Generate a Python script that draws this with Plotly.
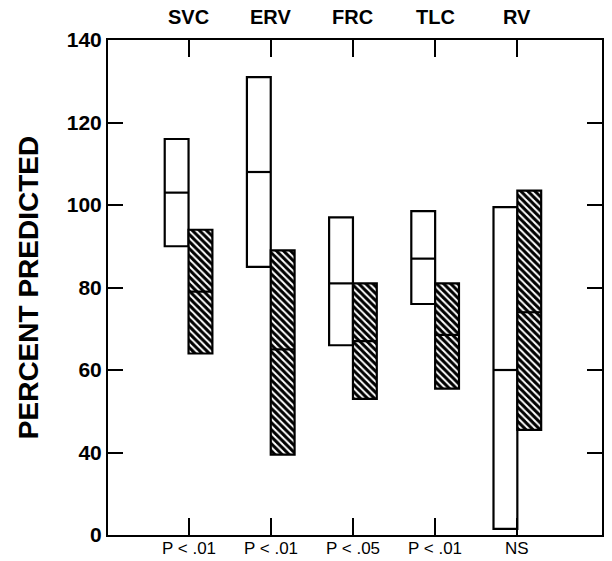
import plotly.graph_objects as go

categories = ["SVC", "ERV", "FRC", "TLC", "RV"]
pvals = ["P < .01", "P < .01", "P < .05", "P < .01", "NS"]
white_low = [90, 85, 66, 76, 3]
white_med = [103, 108, 81, 87, 60]
white_high = [116, 131, 97, 98.5, 99.5]
hatch_low = [64, 39, 53, 55.5, 45.5]
hatch_med = [79, 65, 67, 68.5, 74]
hatch_high = [94, 89, 81, 81, 103.5]
ytick_vals = [0, 40, 60, 80, 100, 120, 140]


def to_axis(v):
    # broken axis: 0..40 compressed into the 20..40 span
    return v if v >= 40 else 20 + v / 2.0


FONT = "Liberation Sans"
W = 0.29
xs = list(range(len(categories)))

fig = go.Figure()
wl = [to_axis(v) for v in white_low]
wh = [to_axis(v) for v in white_high]
hl = [to_axis(v) for v in hatch_low]
hh = [to_axis(v) for v in hatch_high]

fig.add_trace(go.Bar(
    x=[x - W / 2 for x in xs], y=[h - l for h, l in zip(wh, wl)], base=wl,
    width=W, marker=dict(color="white", line=dict(color="black", width=2.2)),
    showlegend=False, hoverinfo="skip"))
fig.add_trace(go.Bar(
    x=[x + W / 2 for x in xs], y=[h - l for h, l in zip(hh, hl)], base=hl,
    width=W, marker=dict(color="white", line=dict(color="black", width=2.2),
                         pattern=dict(shape="\\", fgcolor="black", bgcolor="white",
                                      fgopacity=1, size=5, solidity=0.6)),
    showlegend=False, hoverinfo="skip"))

for i in xs:
    fig.add_shape(type="line", x0=i - W, x1=i, y0=to_axis(white_med[i]), y1=to_axis(white_med[i]),
                  line=dict(color="black", width=2.2))
    fig.add_shape(type="line", x0=i, x1=i + W, y0=to_axis(hatch_med[i]), y1=to_axis(hatch_med[i]),
                  line=dict(color="black", width=2.2))
    fig.add_annotation(x=i, y=1.046, xref="x", yref="paper", text="<b>%s</b>" % categories[i],
                       showarrow=False, font=dict(family=FONT, size=20, color="black"),
                       yanchor="middle")
    fig.add_annotation(x=i, y=-0.027, xref="x", yref="paper", text=pvals[i],
                       showarrow=False, font=dict(family=FONT, size=17, color="black"),
                       yanchor="middle", borderpad=0)

fig.update_layout(
    width=612, height=561, margin=dict(l=108, r=8, t=40, b=26),
    plot_bgcolor="white", paper_bgcolor="white", barmode="overlay",
    font=dict(family=FONT, color="black"),
    xaxis=dict(range=[-0.98, 5.03], tickvals=xs, showticklabels=False,
               ticks="inside", ticklen=17, tickwidth=2, tickcolor="black",
               showline=True, linewidth=2, linecolor="black", mirror="ticks",
               showgrid=False, zeroline=False),
    yaxis=dict(range=[20, 140], tickvals=[to_axis(v) for v in ytick_vals],
               ticktext=["<b>%d</b>" % v for v in ytick_vals],
               ticks="inside", ticklen=15, tickwidth=2, tickcolor="black",
               tickfont=dict(family=FONT, size=21, color="black"),
               showline=True, linewidth=2, linecolor="black", mirror="ticks",
               showgrid=False, zeroline=False,
               title=dict(text="<b>PERCENT PREDICTED</b>", standoff=20,
                          font=dict(family=FONT, size=28, color="black"))),
)

fig.write_html("out.html")
